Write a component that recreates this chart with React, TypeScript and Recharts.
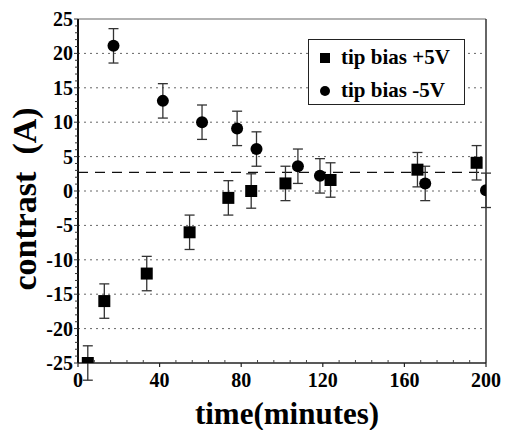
import React from 'react'
import {
  ComposedChart,
  Scatter,
  XAxis,
  YAxis,
  ErrorBar,
  ReferenceLine,
} from 'recharts'

const plusBias = [
  { t: 4.8, v: -25, err: 2.5 },
  { t: 12.9, v: -16, err: 2.5 },
  { t: 33.7, v: -12, err: 2.5 },
  { t: 54.7, v: -6, err: 2.5 },
  { t: 73.7, v: -1, err: 2.5 },
  { t: 84.9, v: 0, err: 2.5 },
  { t: 101.7, v: 1.1, err: 2.5 },
  { t: 123.8, v: 1.6, err: 2.5 },
  { t: 166.4, v: 3.1, err: 2.5 },
  { t: 195.4, v: 4.1, err: 2.5 },
]

const minusBias = [
  { t: 17.4, v: 21.1, err: 2.5 },
  { t: 41.6, v: 13.1, err: 2.5 },
  { t: 60.8, v: 10, err: 2.5 },
  { t: 78, v: 9.1, err: 2.5 },
  { t: 87.5, v: 6.1, err: 2.5 },
  { t: 107.8, v: 3.6, err: 2.5 },
  { t: 118.6, v: 2.2, err: 2.5 },
  { t: 170.2, v: 1.1, err: 2.5 },
  { t: 200, v: 0.1, err: 2.5 },
]

const xMajor = [0, 40, 80, 120, 160, 200]
const xTicks = [0, 8, 16, 24, 32, 40, 48, 56, 64, 72, 80, 88, 96, 104, 112, 120, 128, 136, 144, 152, 160, 168, 176, 184, 192, 200]
const yMajor = [-25, -20, -15, -10, -5, 0, 5, 10, 15, 20, 25]
const yTicks = Array.from({ length: 51 }, (_, i) => i - 25)
const gridValues = [-20, -15, -10, -5, 0, 5, 10, 15, 20]
const meanLevel = 2.7

const serif = '"Liberation Serif", "DejaVu Serif", serif'

function XTick(props: any) {
  const { x, y, payload } = props
  const major = xMajor.includes(payload.value)
  return (
    <g>
      {major ? (
        <line x1={x} x2={x} y1={y} y2={y + 4} stroke="#222" strokeWidth={1.2} />
      ) : (
        <line x1={x} x2={x} y1={y} y2={y - 3} stroke="#444" strokeWidth={1} />
      )}
      {major && (
        <text x={x} y={y + 24} textAnchor="middle" style={{ fontFamily: serif }} fontWeight="bold" fontSize={20} fill="#000">
          {payload.value}
        </text>
      )}
    </g>
  )
}

function YTick(props: any) {
  const { x, y, payload } = props
  const major = yMajor.includes(payload.value)
  return (
    <g>
      <line x1={x} x2={x - (major ? 4 : 3)} y1={y} y2={y} stroke="#333" strokeWidth={1} />
      {major && (
        <text x={x - 5} y={y + 7} textAnchor="end" style={{ fontFamily: serif }} fontWeight="bold" fontSize={20} fill="#000">
          {payload.value}
        </text>
      )}
    </g>
  )
}

const squareShape = (props: any) => (
  <rect x={props.cx - 6} y={props.cy - 6} width={12} height={12} fill="#000" />
)
const circleShape = (props: any) => <circle cx={props.cx} cy={props.cy} r={6} fill="#000" />

export default function App() {
  return (
    <div style={{ position: 'absolute', left: 0, top: 0, width: 505, height: 430, background: '#fff', fontFamily: serif }}>
      <ComposedChart width={505} height={430} margin={{ top: 19, right: 19, bottom: 0, left: 0 }}>
        <XAxis
          type="number"
          dataKey="t"
          domain={[0, 200]}
          ticks={xTicks}
          interval={0}
          height={67}
          tickSize={0}
          tickMargin={0}
          tick={<XTick />}
          axisLine={{ stroke: '#222', strokeWidth: 1.5 }}
          allowDataOverflow
        />
        <YAxis
          type="number"
          dataKey="v"
          domain={[-25, 25]}
          ticks={yTicks}
          interval={0}
          width={78}
          tickSize={0}
          tickMargin={0}
          tick={<YTick />}
          axisLine={{ stroke: '#111', strokeWidth: 2 }}
          allowDataOverflow
        />
        {gridValues.map((g) => (
          <ReferenceLine key={g} y={g} stroke="#666" strokeDasharray="2 4" strokeWidth={1} />
        ))}
        <ReferenceLine y={25} stroke="#666" strokeWidth={1.2} />
        <ReferenceLine x={200} stroke="#333" strokeWidth={1.5} />
        <ReferenceLine y={meanLevel} stroke="#111" strokeDasharray="10 7" strokeWidth={1.2} />
        <Scatter data={plusBias} shape={squareShape} isAnimationActive={false}>
          <ErrorBar dataKey="err" direction="y" width={5} stroke="#333" strokeWidth={1.3} />
        </Scatter>
        <Scatter data={minusBias} shape={circleShape} isAnimationActive={false}>
          <ErrorBar dataKey="err" direction="y" width={5} stroke="#333" strokeWidth={1.3} />
        </Scatter>
      </ComposedChart>

      <div
        style={{
          position: 'absolute',
          left: 308,
          top: 39,
          width: 157,
          height: 66,
          border: '1.5px solid #222',
          background: '#fff',
          fontWeight: 'bold',
          fontSize: 21,
          boxSizing: 'border-box',
        }}
      >
        <div style={{ position: 'absolute', left: 11, top: 5, display: 'flex', alignItems: 'center', whiteSpace: 'nowrap' }}>
          <span style={{ display: 'inline-block', width: 10, height: 10, background: '#000', marginRight: 11 }} />
          tip bias +5V
        </div>
        <div style={{ position: 'absolute', left: 11, top: 38, display: 'flex', alignItems: 'center', whiteSpace: 'nowrap' }}>
          <span style={{ display: 'inline-block', width: 10, height: 10, borderRadius: 5, background: '#000', marginRight: 11 }} />
          tip bias -5V
        </div>
      </div>

      <div
        style={{
          position: 'absolute',
          left: 287,
          top: 398,
          transform: 'translateX(-50%)',
          fontWeight: 'bold',
          fontSize: 31,
          whiteSpace: 'nowrap',
          lineHeight: 1,
        }}
      >
        time(minutes)
      </div>
      <div
        style={{
          position: 'absolute',
          left: 25,
          top: 199,
          transform: 'translate(-50%, -50%) rotate(-90deg)',
          fontWeight: 'bold',
          fontSize: 34,
          whiteSpace: 'pre',
          lineHeight: 1,
        }}
      >
        {'contrast  (A)'}
      </div>
    </div>
  )
}
